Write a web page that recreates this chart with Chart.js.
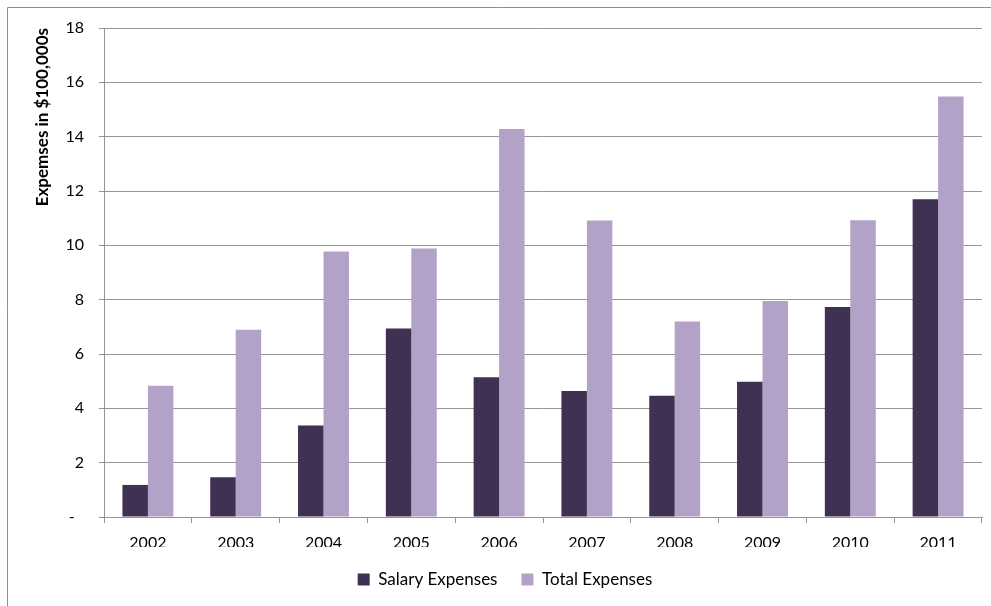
<!DOCTYPE html>
<html>
<head>
<meta charset="utf-8">
<script src="https://cdn.jsdelivr.net/npm/chart.js@4/dist/chart.umd.min.js"></script>
<style>
  html, body { margin: 0; padding: 0; background: #ffffff; }
  #wrap { width: 991px; height: 606px; position: relative; }
</style>
</head>
<body>
<div id="wrap"><canvas id="chart" width="991" height="606"></canvas></div>
<script>
// Annual expenses, in units of $100,000
const years = ['2002', '2003', '2004', '2005', '2006', '2007', '2008', '2009', '2010', '2011'];
const salaryExpenses = [1.18, 1.46, 3.37, 6.94, 5.14, 4.64, 4.46, 4.98, 7.73, 11.70];
const totalExpenses  = [4.83, 6.89, 9.77, 9.88, 14.28, 10.91, 7.20, 7.95, 10.92, 15.48];
const yTickValues = [0, 2, 4, 6, 8, 10, 12, 14, 16, 18];

const FONT = 'Lato, "Open Sans", sans-serif';
const GRID = '#969696';

// White page with the chart-area frame on the left and top edges
const framePlugin = {
  id: 'frame',
  beforeDraw(chart) {
    const c = chart.ctx;
    c.save();
    c.fillStyle = '#ffffff';
    c.fillRect(0, 0, chart.width, chart.height);
    c.strokeStyle = '#8e8e8e';
    c.lineWidth = 1;
    c.beginPath();
    c.moveTo(7.5, chart.height);
    c.lineTo(7.5, 7.5);
    c.lineTo(chart.width, 7.5);
    c.stroke();
    c.restore();
  }
};

// Fixed legend band height and a small horizontal nudge of the legend row
const legendBand = {
  id: 'legendBand',
  beforeLayout(chart) {
    const lg = chart.legend;
    if (lg && !lg.__banded) {
      const fit = lg.fit.bind(lg);
      lg.fit = function () { fit(); this.height = 59; };
      lg.__banded = true;
    }
  },
  afterLayout(chart) {
    const lg = chart.legend;
    if (lg) { lg.left += 14; lg.right += 14; }
  }
};

new Chart(document.getElementById('chart'), {
  type: 'bar',
  data: {
    labels: years,
    datasets: [
      {
        label: 'Salary Expenses',
        data: salaryExpenses,
        backgroundColor: '#3F3151',
        borderWidth: 0
      },
      {
        label: 'Total Expenses',
        data: totalExpenses,
        backgroundColor: '#B3A2C7',
        borderWidth: 0
      }
    ]
  },
  options: {
    responsive: false,
    animation: false,
    devicePixelRatio: 1,
    layout: { padding: { top: 28, right: 9, left: 0, bottom: 0 } },
    datasets: {
      bar: { categoryPercentage: 0.58, barPercentage: 1.0 }
    },
    plugins: {
      tooltip: { enabled: false },
      legend: {
        position: 'bottom',
        labels: {
          boxWidth: 12,
          boxHeight: 12,
          padding: 24,
          color: '#000000',
          font: { family: FONT, size: 17 }
        }
      }
    },
    scales: {
      x: {
        grid: {
          drawOnChartArea: false,
          drawTicks: true,
          tickLength: 6,
          color: GRID,
          offset: true
        },
        border: { color: GRID, width: 1 },
        ticks: {
          color: '#000000',
          padding: 10,
          font: { family: FONT, size: 16 }
        },
        afterFit(scale) { scale.height = 30; }
      },
      y: {
        min: 0,
        max: 18,
        afterBuildTicks(scale) {
          scale.ticks = yTickValues.map(v => ({ value: v }));
        },
        grid: {
          color: GRID,
          tickLength: 5,
          drawTicks: true
        },
        border: { color: GRID, width: 1 },
        ticks: {
          color: '#000000',
          padding: 15,
          font: { family: FONT, size: 16 },
          callback: v => (v === 0 ? '-\u2007' : String(v))
        },
        title: {
          display: true,
          text: 'Expemses in $100,000s',
          align: 'end',
          color: '#000000',
          font: { family: FONT, size: 17, weight: 'bold' },
          padding: { top: 32, bottom: 0 }
        },
        afterFit(scale) { scale.width = 104; }
      }
    }
  },
  plugins: [framePlugin, legendBand]
});
</script>
</body>
</html>
